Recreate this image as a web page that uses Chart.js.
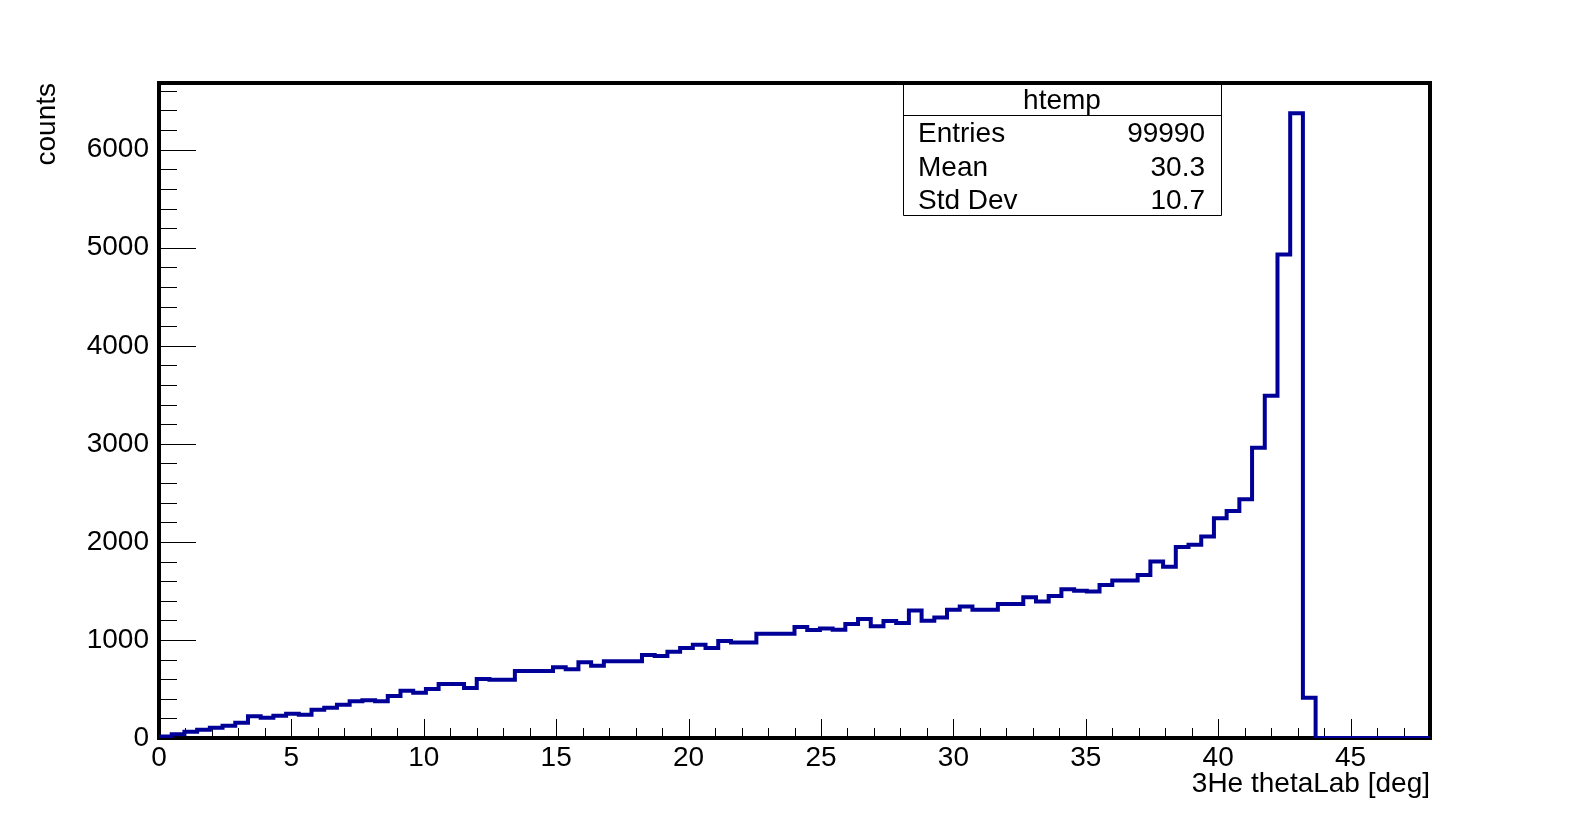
<!DOCTYPE html>
<html>
<head>
<meta charset="utf-8">
<title>htemp</title>
<script src="https://cdn.jsdelivr.net/npm/chart.js@4.4.1/dist/chart.umd.min.js"></script>
<style>
  html, body { margin: 0; padding: 0; background: #fff; }
  canvas { display: block; }
</style>
</head>
<body>
<canvas id="histo" width="1589" height="820"></canvas>
<script>
// htemp: 100 bins from 0 to 48 deg
const xMin = 0;
const xMax = 48;
const yMax = 6680;

// bin contents
const binContents = [
    16, 37, 64, 85, 105, 126, 156, 221, 207, 228,
    248, 238, 289, 309, 340, 374, 384, 374, 428, 483,
    462, 500, 551, 551, 510, 602, 594, 594, 683, 683,
    683, 721, 700, 772, 738, 782, 782, 782, 847, 836,
    880, 918, 952, 918, 990, 973, 973, 1064, 1064, 1064,
    1133, 1102, 1116, 1104, 1163, 1214, 1139, 1194, 1173, 1300,
    1197, 1228, 1309, 1340, 1309, 1309, 1367, 1367, 1435, 1391,
    1449, 1517, 1503, 1493, 1561, 1605, 1605, 1663, 1800, 1746,
    1948, 1970, 2056, 2240, 2315, 2435, 2960, 3490, 4932, 6372,
    410, 0, 0, 0, 0, 0, 0, 0, 0, 0
];

const xMajorTicks = [0, 5, 10, 15, 20, 25, 30, 35, 40, 45];
const yMajorTicks = [0, 1000, 2000, 3000, 4000, 5000, 6000];

const statsTitle = 'htemp';
const statsNames = ['Entries', 'Mean', 'Std Dev'];
const statsValues = ['99990', '30.3', '10.7'];

const FONT = '"Liberation Sans", Arial, Helvetica, sans-serif';

// step outline: one point per lower bin edge, plus the upper edge of the last bin
const binWidth = (xMax - xMin) / binContents.length;
const points = binContents.map((c, i) => ({ x: xMin + i * binWidth, y: c }));
points.push({ x: xMax, y: binContents[binContents.length - 1] });

// ROOT style frame with ticks inside, plus the stats box
const rootFrame = {
    id: 'rootFrame',
    beforeDatasetsDraw(chart) {
        const { ctx, chartArea: a, scales: { x, y } } = chart;
        ctx.save();
        ctx.strokeStyle = '#000';
        ctx.lineWidth = 1;
        ctx.beginPath();
        for (let v = xMin; v <= xMax; v += 1) {
            const px = Math.round(x.getPixelForValue(v)) + 0.5;
            const len = xMajorTicks.includes(v) ? 19 : 10;
            ctx.moveTo(px, a.bottom);
            ctx.lineTo(px, a.bottom - len);
        }
        for (let v = 0; v <= yMax; v += 200) {
            const py = Math.round(y.getPixelForValue(v)) + 0.5;
            const len = yMajorTicks.includes(v) ? 37 : 18;
            ctx.moveTo(a.left, py);
            ctx.lineTo(a.left + len, py);
        }
        ctx.stroke();

        ctx.lineWidth = 4;
        ctx.strokeRect(a.left, a.top, a.right - a.left, a.bottom - a.top);
        ctx.restore();
    },
    afterDraw(chart) {
        const { ctx, chartArea: a } = chart;
        const bx = 903, bw = 318, bh = 132, hdr = 32;
        const by = a.top;
        ctx.save();
        ctx.fillStyle = '#fff';
        ctx.fillRect(bx, by + 2, bw, bh - 2);
        ctx.strokeStyle = '#000';
        ctx.lineWidth = 1;
        ctx.beginPath();
        ctx.moveTo(bx + 0.5, by);
        ctx.lineTo(bx + 0.5, by + bh + 0.5);
        ctx.lineTo(bx + bw + 0.5, by + bh + 0.5);
        ctx.lineTo(bx + bw + 0.5, by);
        ctx.moveTo(bx, by + hdr + 0.5);
        ctx.lineTo(bx + bw, by + hdr + 0.5);
        ctx.stroke();

        ctx.fillStyle = '#000';
        ctx.font = '28px ' + FONT;
        ctx.textBaseline = 'middle';
        ctx.textAlign = 'center';
        ctx.fillText(statsTitle, bx + bw / 2, by + 18);
        const rowH = (bh - hdr) / statsNames.length;
        statsNames.forEach((name, i) => {
            const ry = by + hdr + rowH * (i + 0.5) + 3;
            ctx.textAlign = 'left';
            ctx.fillText(name, bx + 15, ry);
            ctx.textAlign = 'right';
            ctx.fillText(statsValues[i], bx + bw - 16, ry);
        });
        ctx.restore();
    }
};

const ctx = document.getElementById('histo').getContext('2d');
new Chart(ctx, {
    type: 'line',
    data: {
        datasets: [{
            label: statsTitle,
            data: points,
            stepped: true,
            borderColor: '#000099',
            borderWidth: 4,
            pointRadius: 0,
            fill: false
        }]
    },
    options: {
        responsive: false,
        animation: false,
        devicePixelRatio: 1,
        layout: { padding: { top: 83, right: 159, left: 0, bottom: 0 } },
        plugins: {
            legend: { display: false },
            tooltip: { enabled: false }
        },
        scales: {
            x: {
                type: 'linear',
                min: xMin,
                max: xMax,
                grid: { display: false, drawTicks: false },
                border: { display: false },
                afterFit: (scale) => { scale.height = 82; },
                afterBuildTicks: (scale) => { scale.ticks = xMajorTicks.map(v => ({ value: v })); },
                ticks: {
                    padding: 3,
                    maxRotation: 0,
                    autoSkip: false,
                    color: '#000',
                    callback: (v) => String(v),
                    font: { family: FONT, size: 28 }
                },
                title: {
                    display: true,
                    text: '3He thetaLab [deg]',
                    align: 'end',
                    color: '#000',
                    padding: { top: 0, bottom: 19 },
                    font: { family: FONT, size: 28 }
                }
            },
            y: {
                type: 'linear',
                min: 0,
                max: yMax,
                grid: { display: false, drawTicks: false },
                border: { display: false },
                afterFit: (scale) => { scale.width = 159; },
                afterBuildTicks: (scale) => { scale.ticks = yMajorTicks.map(v => ({ value: v })); },
                ticks: {
                    padding: 10,
                    color: '#000',
                    callback: (v) => String(v),
                    font: { family: FONT, size: 28 }
                },
                title: {
                    display: true,
                    text: 'counts',
                    align: 'end',
                    color: '#000',
                    padding: { top: 30, bottom: 0 },
                    font: { family: FONT, size: 28 }
                }
            }
        }
    },
    plugins: [rootFrame]
});
</script>
</body>
</html>
